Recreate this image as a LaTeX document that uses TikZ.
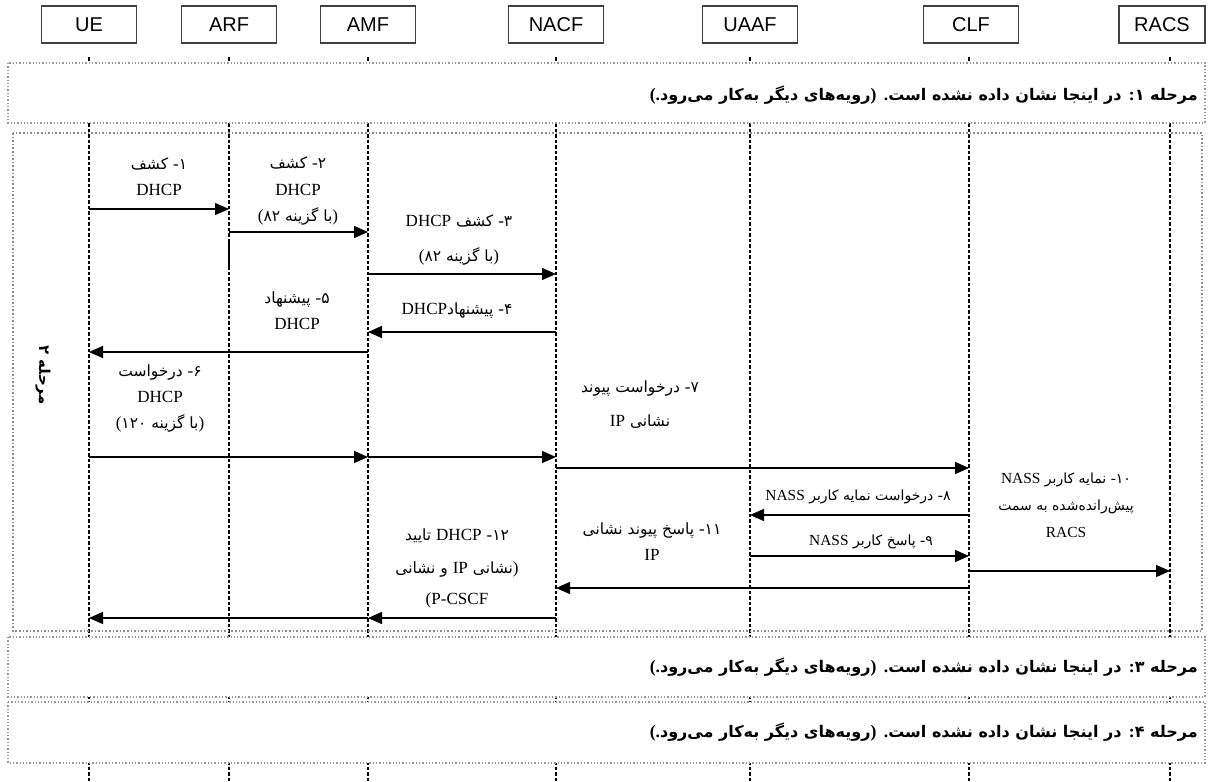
\documentclass[tikz,border=0pt]{standalone}
\usepackage{fontspec}
\setmainfont{Liberation Serif}
\newfontfamily\fa[Script=Arabic]{DejaVu Sans}
\newfontfamily\lat{Liberation Serif}[Scale=1.1]
\newfontfamily\hdr{Liberation Sans}
\TeXXeTstate=1
\usetikzlibrary{arrows.meta}
\tikzset{
  actor/.style={draw=black!75, line width=1.4pt, fill=white, minimum width=95pt, minimum height=37pt, inner sep=0pt, font=\hdr\fontsize{20}{20}\selectfont},
  lifeline/.style={line width=2pt, dash pattern=on 3.5pt off 2pt},
  phasebox/.style={draw=black!40, line width=1.3pt, dotted, fill=white},
  phasetwo/.style={draw=black!45, line width=1.6pt, dotted},
  msg/.style={line width=1.3pt, -{Triangle[length=14pt,width=12pt]}},
  lbl/.style={align=center, inner sep=0pt, font=\fa\fontsize{15.5}{26}\selectfont},
  phasetxt/.style={anchor=east, inner sep=0pt, font=\fa\bfseries\fontsize{16}{17}\selectfont},
}
\begin{document}
\begin{tikzpicture}[x=1pt,y=-1pt]
\useasboundingbox (0,0) rectangle (1208,782);
\foreach \n/\x in {UE/89,ARF/229,AMF/368,NACF/556,UAAF/750,CLF/969,RACS/1170}{
  \coordinate (t\n) at (\x,57);
  \coordinate (b\n) at (\x,782);
}
\foreach \n in {UE,ARF,AMF,NACF,UAAF,CLF,RACS}{
  \draw[lifeline] (t\n) -- (b\n);
}
% header boxes
\node[actor] (hUE) at (89,24.5) {UE};
\node[actor] (hARF) at (229,24.5) {ARF};
\node[actor] (hAMF) at (368,24.5) {AMF};
\node[actor] (hNACF) at (556,24.5) {NACF};
\node[actor] (hUAAF) at (750,24.5) {UAAF};
\node[actor] (hCLF) at (971,24.5) {CLF};
\node[actor, minimum width=86pt] (hRACS) at (1162,24.5) {RACS};
% phase boxes
\draw[phasebox] (8,63) rectangle (1205,123);
\draw[phasetwo] (13,133) rectangle (1202,631);
\draw[phasebox] (8,637) rectangle (1205,697);
\draw[phasebox] (8,702) rectangle (1205,763);
\node[phasetxt] (p1) at (1198,95) {\beginR مرحله ۱{\lat :} در اینجا نشان داده نشده است{\lat .} {\lat )}رویه^^^^200cهای دیگر به^^^^200cکار می^^^^200cرود{\lat (.}\endR};
\node[phasetxt] (p3) at (1198,667) {\beginR مرحله ۳{\lat :} در اینجا نشان داده نشده است{\lat .} {\lat )}رویه^^^^200cهای دیگر به^^^^200cکار می^^^^200cرود{\lat (.}\endR};
\node[phasetxt] (p4) at (1198,732) {\beginR مرحله ۴{\lat :} در اینجا نشان داده نشده است{\lat .} {\lat )}رویه^^^^200cهای دیگر به^^^^200cکار می^^^^200cرود{\lat (.}\endR};
\node[font=\fa\bfseries\fontsize{15}{15}\selectfont, rotate=-90, inner sep=0pt] (p2) at (43,375) {\beginR مرحله ۲\endR};
% rows
\foreach \r/\y in {1/209,2/232,3/274,4/332,5/352,6/457,7/468,8/515,9/556,10/571,11/588,12/618,s1/240,s2/270}{
  \coordinate (r\r) at (0,\y);
}
\draw[line width=2pt] (tARF |- rs1) -- (tARF |- rs2);
% messages
\draw[msg] (tUE |- r1) -- (tARF |- r1);
\draw[msg] (tARF |- r2) -- (tAMF |- r2);
\draw[msg] (tAMF |- r3) -- (tNACF |- r3);
\draw[msg] (tNACF |- r4) -- (tAMF |- r4);
\draw[msg] (tAMF |- r5) -- (tUE |- r5);
\draw[msg] (tUE |- r6) -- (tAMF |- r6);
\draw[msg] (tAMF |- r6) -- (tNACF |- r6);
\draw[msg] (tNACF |- r7) -- (tCLF |- r7);
\draw[msg] (tCLF |- r8) -- (tUAAF |- r8);
\draw[msg] (tUAAF |- r9) -- (tCLF |- r9);
\draw[msg] (tCLF |- r10) -- (tRACS |- r10);
\draw[msg] (tCLF |- r11) -- (tNACF |- r11);
\draw[msg] (tNACF |- r12) -- (tAMF |- r12);
\draw[msg] (tAMF |- r12) -- (tUE |- r12);
% labels
\node[lbl] (m1) at (159,177) {\beginR ۱{\lat -} کشف\endR\\{\lat DHCP}};
\node[lbl] (m2) at (298,191) {\beginR ۲{\lat -} کشف\endR\\{\lat DHCP}\\\beginR{\lat )}با گزینه ۸۲{\lat (}\endR};
\node[lbl] (m3) at (459,240) {\beginR ۳{\lat -} کشف {\lat DHCP}\endR\\[9pt]\beginR{\lat )}با گزینه ۸۲{\lat (}\endR};
\node[lbl] (m4) at (457,310) {\beginR ۴{\lat -} پیشنهاد{\lat DHCP}\endR};
\node[lbl] (m5) at (297,311) {\beginR ۵{\lat -} پیشنهاد\endR\\{\lat DHCP}};
\node[lbl] (m6) at (160,398) {\beginR ۶{\lat -} درخواست\endR\\{\lat DHCP}\\\beginR{\lat )}با گزینه ۱۲۰{\lat (}\endR};
\node[lbl] (m7) at (640,405) {\beginR ۷{\lat -} درخواست پیوند\endR\\[8pt]\beginR نشانی {\lat IP}\endR};
\node[lbl, font=\fa\fontsize{14}{26}\selectfont] (m8) at (858,497) {\beginR ۸{\lat -} درخواست نمایه کاربر {\lat NASS}\endR};
\node[lbl, font=\fa\fontsize{14}{26}\selectfont] (m9) at (871,542) {\beginR ۹{\lat -} پاسخ کاربر {\lat NASS}\endR};
\node[lbl, font=\fa\fontsize{14}{27}\selectfont] (m10) at (1066,505) {\beginR ۱۰{\lat -} نمایه کاربر {\lat NASS}\endR\\\beginR پیش^^^^200cرانده^^^^200cشده به سمت\endR\\{\lat RACS}};
\node[lbl] (m11) at (652,542) {\beginR ۱۱{\lat -} پاسخ پیوند نشانی\endR\\{\lat IP}};
\node[lbl] (m12) at (457,568) {\beginR ۱۲{\lat -} {\lat DHCP} تایید\endR\\[7pt]\beginR{\lat )}نشانی {\lat IP} و نشانی\endR\\[5pt]{\lat (P-CSCF}};
\end{tikzpicture}
\end{document}
